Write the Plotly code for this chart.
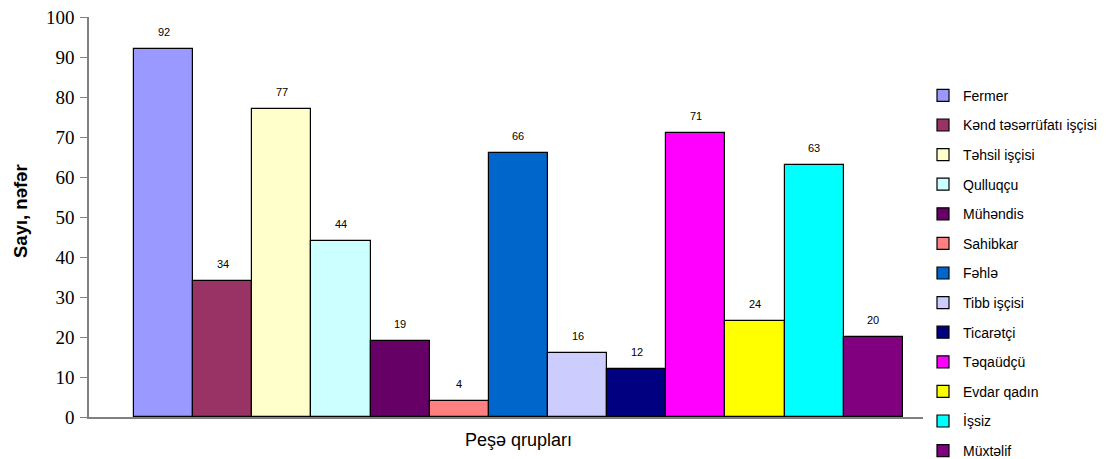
import plotly.graph_objects as go

# Occupational groups and head counts
groups = [
    "Fermer", "Kənd təsərrüfatı işçisi", "Təhsil işçisi", "Qulluqçu",
    "Mühəndis", "Sahibkar", "Fəhlə", "Tibb işçisi", "Ticarətçi",
    "Təqaüdçü", "Evdar qadın", "İşsiz", "Müxtəlif",
]
counts = [92, 34, 77, 44, 19, 4, 66, 16, 12, 71, 24, 63, 20]
colors = [
    "#9999FF", "#993366", "#FFFFCC", "#CCFFFF", "#660066", "#FF8080",
    "#0066CC", "#CCCCFF", "#000080", "#FF00FF", "#FFFF00", "#00FFFF",
    "#800080",
]
y_ticks = list(range(0, 101, 10))

y_title = "Sayı, nəfər"
x_title = "Peşə qrupları"

SANS = "Liberation Sans, Arial, sans-serif"
SERIF = "Liberation Serif, Times New Roman, serif"

fig = go.Figure()
for i, (g, v, c) in enumerate(zip(groups, counts, colors)):
    fig.add_trace(go.Bar(
        x=[g], y=[v], name=g, legendgroup=f"g{i}",
        marker=dict(color=c, line=dict(color="black", width=1.2)),
        hoverinfo="x+y",
    ))
    fig.add_annotation(
        x=g, y=v, xref="x", yref="y", text=str(v), showarrow=False,
        yanchor="bottom", yshift=9, font=dict(family=SANS, size=11, color="black"),
    )

# axis titles
fig.add_annotation(
    x=groups[len(groups) // 2], y=0, xref="x", yref="paper", text=x_title,
    showarrow=False, yanchor="middle", yshift=-23,
    font=dict(family=SANS, size=18, color="black"),
)
fig.add_annotation(
    x=0, y=0.5, xref="paper", yref="paper", text=f"<b>{y_title}</b>",
    showarrow=False, textangle=-90, xanchor="center", yanchor="middle",
    xshift=-69, yshift=6, font=dict(family=SANS, size=18.5, color="black"),
)

fig.update_layout(
    width=1106, height=459,
    margin=dict(l=89, r=183, t=17, b=42, pad=0, autoexpand=False),
    paper_bgcolor="white", plot_bgcolor="white",
    barmode="overlay", bargap=0,
    showlegend=True,
    legend=dict(
        x=1.0, xanchor="left", xref="paper", y=0.843, yanchor="top",
        font=dict(family=SANS, size=14, color="black"),
        traceorder="grouped", tracegroupgap=8.4, maxheight=459,
        bgcolor="rgba(0,0,0,0)", borderwidth=0,
    ),
    xaxis=dict(
        type="category", categoryorder="array", categoryarray=groups,
        range=[-1.261, 12.84], showticklabels=False, ticks="",
        showline=True, linecolor="#808080", linewidth=1.5, showgrid=False,
        zeroline=False, fixedrange=True, automargin=False,
    ),
    yaxis=dict(
        range=[0, 100], tickvals=y_ticks, ticks="outside", ticklen=7,
        tickcolor="#808080", tickwidth=1.2, showline=True, linecolor="#808080",
        linewidth=1.5, showgrid=False, zeroline=False, automargin=False,
        tickfont=dict(family=SERIF, size=19, color="black"), ticklabelstandoff=2,
    ),
)

fig.write_html("out.html")
